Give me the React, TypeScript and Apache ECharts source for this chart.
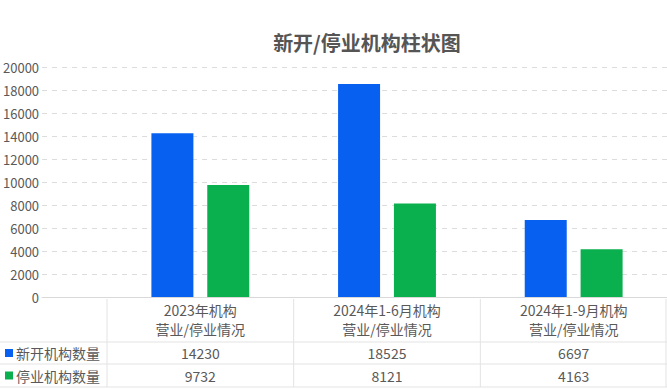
import React, { useEffect, useRef } from "react";
import * as echarts from "echarts";

const title = "新开/停业机构柱状图";
const categories = [
  "2023年机构\n营业/停业情况",
  "2024年1-6月机构\n营业/停业情况",
  "2024年1-9月机构\n营业/停业情况",
];
const seriesNames = ["新开机构数量", "停业机构数量"];
const newOpened = [14230, 18525, 6697];
const closedDown = [9732, 8121, 4163];
const yMin = 0;
const yMax = 20000;
const yInterval = 2000;

const BLUE = "#0860F0";
const GREEN = "#0AAF4E";
const TEXT = "#595959";
const LINE = "#E3E3E3";
const FONT = "'Noto Sans CJK SC', 'Noto Sans', sans-serif";

export default function App() {
  const ref = useRef<HTMLDivElement>(null);

  useEffect(() => {
    document.body.style.margin = "0";
    if (!ref.current) return;
    const chart = echarts.init(ref.current, null, { renderer: "svg" });
    const W = 667;
    const H = 389;
    const plotTop = 67;
    const plotBottom = 92;
    const tableLeft = 107;

    chart.setOption({
      animation: false,
      backgroundColor: "#ffffff",
      textStyle: { fontFamily: FONT },
      title: {
        text: title,
        left: 362,
        top: 27,
        textAlign: "center",
        textStyle: { fontSize: 20, fontWeight: "bold", color: "#555555", fontFamily: FONT },
      },
      grid: [
        { left: 40, right: 0, top: plotTop, bottom: plotBottom, containLabel: false },
        { left: tableLeft, right: 0, top: plotTop, bottom: plotBottom, containLabel: false },
      ],
      xAxis: [
        {
          gridIndex: 0,
          type: "category",
          data: [""],
          axisLine: { show: true, lineStyle: { color: "#D9D9D9", width: 1 } },
          axisTick: { show: false },
          axisLabel: { show: false },
        },
        {
          gridIndex: 1,
          type: "category",
          data: categories,
          axisLine: { show: false },
          axisTick: { show: false },
          axisLabel: {
            color: TEXT,
            fontSize: 14,
            lineHeight: 19,
            margin: 3,
            fontFamily: FONT,
            interval: 0,
          },
        },
      ],
      yAxis: [
        {
          gridIndex: 0,
          type: "value",
          min: yMin,
          max: yMax,
          interval: yInterval,
          axisLine: { show: false },
          axisTick: { show: false },
          axisLabel: {
            color: TEXT,
            fontSize: 13,
            margin: 3,
            fontFamily: FONT,
            formatter: (v: number) => String(v),
          },
          splitLine: { show: true, lineStyle: { color: "#DCDCDC", type: [5, 5], width: 1 } },
        },
        {
          gridIndex: 1,
          type: "value",
          min: yMin,
          max: yMax,
          interval: yInterval,
          show: false,
          splitLine: { show: false },
        },
      ],
      series: [
        {
          name: seriesNames[0],
          type: "bar",
          xAxisIndex: 1,
          yAxisIndex: 1,
          data: newOpened,
          barWidth: 42,
          barGap: "33%",
          itemStyle: { color: BLUE },
        },
        {
          name: seriesNames[1],
          type: "bar",
          xAxisIndex: 1,
          yAxisIndex: 1,
          data: closedDown,
          barWidth: 42,
          barGap: "33%",
          itemStyle: { color: GREEN },
        },
      ],
    });

    const centers = categories.map((_, i) => chart.convertToPixel({ xAxisIndex: 1 }, i) as number);
    const bandW = (W - tableLeft) / categories.length;
    const zeroY = H - plotBottom;
    const row1Top = 342;
    const row2Top = 364;
    const tableBottom = 387;
    const rowMid = [(row1Top + row2Top) / 2, (row2Top + tableBottom) / 2];

    const graphics: any[] = [];
    [row1Top, row2Top, tableBottom].forEach((y) => {
      graphics.push({
        type: "line",
        shape: { x1: 0, y1: y, x2: W, y2: y },
        style: { stroke: LINE, lineWidth: 1 },
        silent: true,
      });
    });
    for (let i = 0; i <= categories.length; i++) {
      const x = Math.min(tableLeft + bandW * i, W - 1);
      graphics.push({
        type: "line",
        shape: { x1: x, y1: zeroY + 2, x2: x, y2: tableBottom },
        style: { stroke: LINE, lineWidth: 1 },
        silent: true,
      });
    }
    const rows = [
      { name: seriesNames[0], color: BLUE, values: newOpened },
      { name: seriesNames[1], color: GREEN, values: closedDown },
    ];
    rows.forEach((r, ri) => {
      const y = rowMid[ri];
      graphics.push({
        type: "rect",
        shape: { x: 5, y: y - 4, width: 8, height: 8 },
        style: { fill: r.color },
      });
      graphics.push({
        type: "text",
        x: 16,
        y,
        style: {
          text: r.name,
          fill: TEXT,
          fontSize: 14,
          fontFamily: FONT,
          verticalAlign: "middle",
          align: "left",
        },
      });
      r.values.forEach((v, ci) => {
        graphics.push({
          type: "text",
          x: centers[ci],
          y,
          style: {
            text: String(v),
            fill: TEXT,
            fontSize: 14,
            fontFamily: FONT,
            verticalAlign: "middle",
            align: "center",
          },
        });
      });
    });

    chart.setOption({ graphic: graphics });

    return () => {
      chart.dispose();
    };
  }, []);

  return <div ref={ref} style={{ width: 667, height: 389 }} />;
}
